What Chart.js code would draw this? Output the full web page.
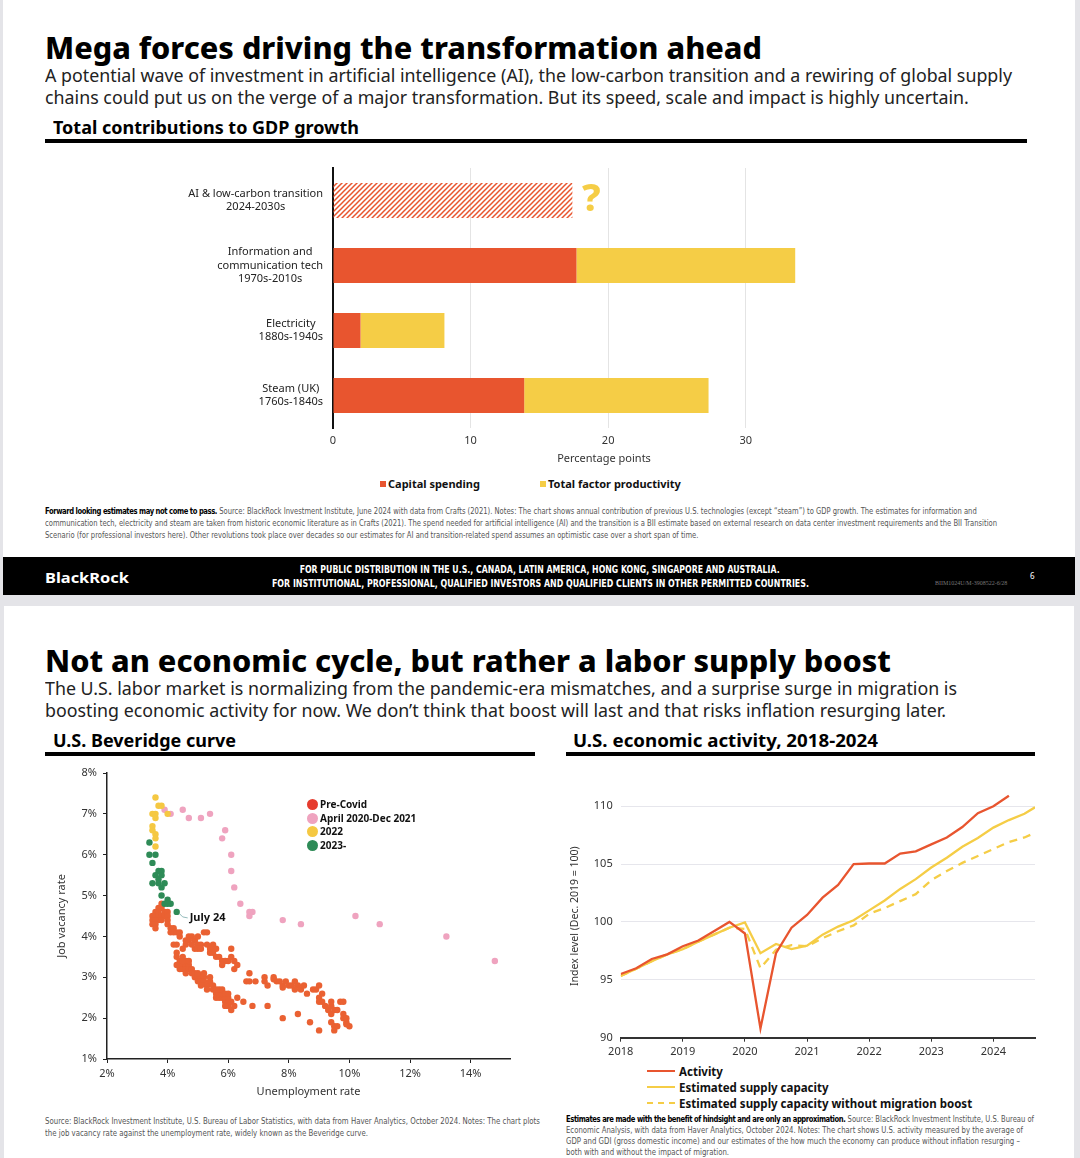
<!DOCTYPE html>
<html>
<head>
<meta charset="utf-8">
<script src="https://cdn.jsdelivr.net/npm/chart.js@4.4.1/dist/chart.umd.min.js"></script>
<style>
html, body { margin: 0; padding: 0; }
body { width: 1080px; height: 1158px; position: relative; overflow: hidden; background: #e4e4e8; font-family: "Noto Sans", sans-serif; color: #1a1a1a; }
.slide { position: absolute; background: #fff; }
.t { position: absolute; white-space: nowrap; display: inline-block; transform-origin: left center; }
.title { font-size: 31px; font-weight: 800; line-height: 36px; color: #000; }
.sub { font-size: 17.5px; line-height: 21.5px; color: #222; }
.sec { font-size: 17px; font-weight: 700; line-height: 20px; color: #000; }
.rule { position: absolute; height: 4px; background: #000; }
.note { font-family: "Liberation Sans Narrow", "DejaVu Sans Condensed", "DejaVu Sans", sans-serif; font-stretch: condensed; font-size: 8.4px; line-height: 12px; color: #555; }
.note b { color: #000; letter-spacing: -0.45px; }
.foot { font-family: "Liberation Sans Narrow", "DejaVu Sans Condensed", sans-serif; font-stretch: condensed; font-weight: 700; font-size: 10px; line-height: 14px; color: #fff; transform-origin: center center; }
canvas { position: absolute; }
.leg { position: absolute; font-size: 10px; font-weight: 700; line-height: 13.5px; color: #111; white-space: nowrap; }
.dot { display: inline-block; width: 11px; height: 11px; border-radius: 50%; vertical-align: -2px; margin-right: 2px; }
.lleg { position: absolute; font-size: 11.5px; font-weight: 700; line-height: 16px; color: #111; white-space: nowrap; }
.sw { display: inline-block; width: 28px; height: 0; border-top: 2.5px solid; vertical-align: 4px; margin-right: 4px; }
</style>
</head>
<body>

<div class="slide" style="left:3px;top:0;width:1072px;height:595px"></div>
<div class="slide" style="left:4px;top:606px;width:1070px;height:552px"></div>

<!-- slide 1 -->
<div class="t title fit" data-w="717" style="left:45px;top:29px">Mega forces driving the transformation ahead</div>
<div class="t sub fit" data-w="967" style="left:45px;top:65px">A potential wave of investment in artificial intelligence (AI), the low-carbon transition and a rewiring of global supply<br>chains could put us on the verge of a major transformation. But its speed, scale and impact is highly uncertain.</div>
<div class="t sec fit" data-w="306" style="left:53px;top:118px">Total contributions to GDP growth</div>
<div class="rule" style="left:45px;top:139px;width:982px"></div>

<canvas id="barChart" width="735" height="300" style="left:150px;top:165px"></canvas>

<div class="leg" style="left:380px;top:477px;font-size:11px"><span style="display:inline-block;width:6px;height:6px;background:#e8552f;vertical-align:1px;margin-right:2px"></span>Capital spending</div>
<div class="leg" style="left:540px;top:477px;font-size:11px"><span style="display:inline-block;width:6px;height:6px;background:#f5cd46;vertical-align:1px;margin-right:2px"></span>Total factor productivity</div>

<div class="t note fit" data-w="952" style="left:45px;top:505px"><b>Forward looking estimates may not come to pass.</b> Source: BlackRock Investment Institute, June 2024 with data from Crafts (2021). Notes: The chart shows annual contribution of previous U.S. technologies (except “steam”) to GDP growth. The estimates for information and<br>communication tech, electricity and steam are taken from historic economic literature as in Crafts (2021). The spend needed for artificial intelligence (AI) and the transition is a BII estimate based on external research on data center investment requirements and the BII Transition<br>Scenario (for professional investors here). Other revolutions took place over decades so our estimates for AI and transition-related spend assumes an optimistic case over a short span of time.</div>

<div style="position:absolute;left:3px;top:557px;width:1072px;height:38px;background:#000"></div>
<div class="t fit" data-w="84" style="left:45px;top:567px;color:#fff;font-weight:700;font-size:15px;line-height:20px">BlackRock</div>
<div class="t foot fitc" data-w="480" style="left:0;top:563px;width:1080px;text-align:center"><span>FOR PUBLIC DISTRIBUTION IN THE U.S., CANADA, LATIN AMERICA, HONG KONG, SINGAPORE AND AUSTRALIA.</span></div>
<div class="t foot fitc" data-w="537" style="left:0;top:577px;width:1080px;text-align:center"><span>FOR INSTITUTIONAL, PROFESSIONAL, QUALIFIED INVESTORS AND QUALIFIED CLIENTS IN OTHER PERMITTED COUNTRIES.</span></div>
<div class="t" style="left:935px;top:579px;font-size:6px;line-height:8px;color:#777;font-family:'Liberation Serif',serif">BIIM1024U/M-3908522-6/28</div>
<div class="t" style="left:1030px;top:571px;font-size:8px;line-height:10px;color:#fff">6</div>

<!-- slide 2 -->
<div class="t title fit" data-w="846" style="left:45px;top:642px">Not an economic cycle, but rather a labor supply boost</div>
<div class="t sub fit" data-w="912" style="left:45px;top:678px">The U.S. labor market is normalizing from the pandemic-era mismatches, and a surprise surge in migration is<br>boosting economic activity for now. We don’t think that boost will last and that risks inflation resurging later.</div>
<div class="t sec fit" data-w="183" style="left:53px;top:731px">U.S. Beveridge curve</div>
<div class="t sec fit" data-w="305" style="left:573px;top:731px">U.S. economic activity, 2018-2024</div>
<div class="rule" style="left:45px;top:752px;width:490px"></div>
<div class="rule" style="left:566px;top:752px;width:469px"></div>

<canvas id="scatterChart" width="480" height="345" style="left:40px;top:760px"></canvas>
<div class="leg" style="left:307px;top:798px">
  <div><span class="dot" style="background:#e63b2e"></span>Pre-Covid</div>
  <div><span class="dot" style="background:#efa3bf"></span>April 2020-Dec 2021</div>
  <div><span class="dot" style="background:#f5c842"></span>2022</div>
  <div><span class="dot" style="background:#2e8b57"></span>2023-</div>
</div>

<canvas id="lineChart" width="480" height="280" style="left:565px;top:780px"></canvas>
<div class="lleg" style="left:647px;top:1064px">
  <div><span class="sw" style="border-color:#e8552f"></span>Activity</div>
  <div><span class="sw" style="border-color:#f5cd46"></span>Estimated supply capacity</div>
  <div><span class="sw" style="border-top-style:dashed;border-color:#f5cd46"></span>Estimated supply capacity without migration boost</div>
</div>

<div class="t note fit" data-w="495" style="left:45px;top:1115px">Source: BlackRock Investment Institute, U.S. Bureau of Labor Statistics, with data from Haver Analytics, October 2024. Notes: The chart plots<br>the job vacancy rate against the unemployment rate, widely known as the Beveridge curve.</div>
<div class="t note fit" data-w="468" style="left:566px;top:1114px;line-height:10.5px"><b>Estimates are made with the benefit of hindsight and are only an approximation.</b> Source: BlackRock Investment Institute, U.S. Bureau of</div>
<div class="t note fit" data-w="457" style="left:566px;top:1125px;line-height:10.5px">Economic Analysis, with data from Haver Analytics, October 2024. Notes: The chart shows U.S. activity measured by the average of</div>
<div class="t note fit" data-w="454" style="left:566px;top:1136px;line-height:10.5px">GDP and GDI (gross domestic income) and our estimates of the how much the economy can produce without inflation resurging –</div>
<div class="t note fit" data-w="163" style="left:566px;top:1146.5px;line-height:10.5px">both with and without the impact of migration.</div>

<script>
// ---- bar chart data ----
const categories = [
    ['AI & low-carbon transition', '2024-2030s'],
    ['Information and', 'communication tech', '1970s-2010s'],
    ['Electricity', '1880s-1940s'],
    ['Steam (UK)', '1760s-1840s']
];
const capitalSpending = [17.4, 17.7, 2.0, 13.9];
const factorProductivity = [null, 15.9, 6.1, 13.4];
const barTicks = [0, 10, 20, 30];

// ---- Beveridge curve data: [unemployment %, vacancy %] ----
const preCovid = [
    [3.8,4.8],[3.7,4.7],[3.8,4.7],[3.9,4.6],[3.7,4.6],[3.6,4.6],[3.6,4.5],[3.7,4.5],[3.8,4.5],[3.9,4.5],
    [3.5,4.5],[3.5,4.4],[3.6,4.4],[3.7,4.4],[3.5,4.3],[3.6,4.3],[3.6,4.2],[4.0,4.6],[3.8,4.4],[4.0,4.5],
    [4.0,4.4],[4.0,4.3],[4.1,4.2],[4.1,4.1],[4.2,4.1],[4.3,4.1],[4.4,4.0],[4.4,4.1],[4.2,4.2],
    [4.6,3.9],[4.7,4.0],[4.8,4.0],[4.9,3.9],[4.7,3.9],[5.0,3.8],[5.0,4.0],[4.9,3.7],[5.1,3.8],[5.0,3.7],
    [5.1,3.7],[5.2,4.1],[5.3,4.1],[4.6,3.8],[4.5,3.7],[4.8,3.8],[4.2,3.8],[4.3,3.8],[4.3,3.6],
    [5.3,3.8],[5.4,3.6],[5.5,3.8],[5.6,3.7],[5.6,3.5],[5.7,3.5],[5.5,3.6],[5.8,3.4],[5.9,3.4],[5.8,3.3],[5.4,3.7],
    [6.1,3.7],[6.1,3.5],[6.2,3.4],[6.3,3.3],[6.2,3.2],[6.0,3.4],
    [4.3,3.5],[4.4,3.4],[4.4,3.3],[4.5,3.3],[4.5,3.2],[4.6,3.3],[4.6,3.4],[4.6,3.2],[4.7,3.3],[4.7,3.2],
    [4.4,3.2],[4.3,3.3],[4.5,3.5],[4.7,3.4],[4.8,3.2],[4.8,3.1],[4.5,3.4],[4.6,3.1],
    [4.9,3.1],[4.9,3.0],[5.0,3.0],[5.0,2.9],[5.1,3.0],[5.1,2.9],[5.2,3.0],[5.2,2.9],[5.3,2.8],[5.4,2.9],
    [5.0,3.1],[5.2,3.1],[5.4,3.0],[5.3,2.7],[5.5,2.8],[5.1,2.8],
    [5.5,2.7],[5.6,2.6],[5.6,2.5],[5.7,2.6],[5.7,2.5],[5.8,2.5],[5.8,2.6],[5.9,2.4],[5.9,2.5],[6.0,2.4],
    [6.0,2.3],[6.1,2.4],[6.1,2.2],[6.0,2.5],[5.7,2.7],[5.8,2.7],[5.9,2.6],[6.2,2.3],[6.3,2.5],[5.6,2.7],
    [6.0,2.6],[5.9,2.3],[6.5,2.4],[6.8,2.3],[7.3,2.3],
    [6.7,3.1],[6.6,2.9],[6.7,2.9],[6.9,2.9],[7.2,3.0],[7.2,2.9],[7.3,2.8],[7.5,3.0],[7.6,2.9],[7.7,2.9],
    [7.8,2.8],[7.9,2.9],[8.0,2.8],[8.1,2.8],[8.2,2.9],[8.3,2.8],[8.2,2.7],[8.4,2.7],[8.5,2.8],[8.6,2.6],
    [8.8,2.7],[8.9,2.7],[9.0,2.8],[7.5,2.95],[7.8,2.75],
    [9.1,2.6],[9.0,2.5],[9.0,2.4],[9.1,2.4],[9.2,2.3],[9.3,2.2],[9.4,2.3],[9.4,2.4],[9.5,2.2],[9.6,2.2],
    [9.4,2.1],[9.4,1.9],[9.5,1.8],[9.5,1.7],[9.6,1.8],[9.7,2.4],[9.8,2.4],[9.8,2.1],[9.8,2.0],[9.9,1.9],
    [9.9,2.0],[10.0,1.8],[9.9,1.85],
    [7.8,2.0],[8.3,2.1],[8.7,1.9],[9.0,1.7]
];
const pandemic = [
    [14.8,3.4],[13.2,4.0],[11.0,4.3],[10.2,4.5],[8.4,4.3],[7.8,4.4],[6.8,4.6],[6.7,4.5],[6.7,4.6],
    [6.4,4.8],[6.2,5.2],[6.1,5.6],[6.1,6.0],[5.8,6.4],[5.9,6.6],[5.4,7.0],[5.1,6.9],[4.7,6.9],
    [4.5,7.1],[4.1,7.0],[3.9,7.1]
];
const year2022 = [
    [4.0,7.0],[3.8,7.2],[3.7,7.2],[3.6,7.4],[3.6,7.0],[3.5,7.0],[3.6,6.9],[3.5,6.7],[3.5,6.6],[3.6,6.5],
    [3.6,6.4],[3.6,6.2]
];
const since2023 = [
    [3.4,6.3],[3.4,6.0],[3.6,6.0],[3.5,5.8],[3.7,5.6],[3.8,5.6],[3.6,5.5],[3.7,5.4],[3.8,5.5],[3.5,5.3],
    [3.7,5.3],[3.9,5.3],[3.8,5.2],[3.8,5.0],[4.0,4.9],[3.9,4.8],[4.1,4.8],[4.0,4.8],[4.3,4.6]
];
const unemploymentTicks = [2, 4, 6, 8, 10, 12, 14];
const vacancyTicks = [1, 2, 3, 4, 5, 6, 7, 8];

// ---- economic activity data (decimal years, index Dec 2019 = 100) ----
const activityDates = [2018.0, 2018.25, 2018.5, 2018.75, 2019.0, 2019.25, 2019.5, 2019.75, 2020.0, 2020.25,
    2020.5, 2020.75, 2021.0, 2021.25, 2021.5, 2021.75, 2022.0, 2022.25, 2022.5, 2022.75,
    2023.0, 2023.25, 2023.5, 2023.75, 2024.0, 2024.25];
const supplyDates = activityDates.concat([2024.5, 2024.67]);
const activity = [95.5, 96.0, 96.8, 97.2, 97.9, 98.4, 99.2, 100.0, 99.0, 90.8,
    97.3, 99.5, 100.6, 102.1, 103.2, 105.0, 105.05, 105.05, 105.9, 106.1,
    106.7, 107.3, 108.2, 109.4, 110.0, 110.9];
const supplyCapacity = [95.33, 95.95, 96.6, 97.2, 97.65, 98.3, 98.9, 99.5, 99.95, 97.3,
    98.1, 97.65, 97.95, 98.9, 99.6, 100.15, 101.0, 101.85, 102.85, 103.7,
    104.7, 105.55, 106.5, 107.25, 108.15, 108.8, 109.35, 109.9];
const supplyNoMigration = [95.33, 95.95, 96.6, 97.2, 97.65, 98.3, 98.9, 99.5, 99.4, 96.0,
    97.6, 98.0, 97.9, 98.6, 99.2, 99.7, 100.7, 101.2, 101.8, 102.4,
    103.6, 104.4, 105.1, 105.7, 106.3, 106.9, 107.3, 107.7];
const yearTicks = [2018, 2019, 2020, 2021, 2022, 2023, 2024];
const indexTicks = [90, 95, 100, 105, 110];

const ORANGE = '#e8552f';
const YELLOW = '#f5cd46';
const TEXT = '#333';

Chart.defaults.font.family = '"Noto Sans", sans-serif';
Chart.defaults.color = TEXT;

function hatch(color) {
    const c = document.createElement('canvas');
    c.width = 5; c.height = 5;
    const g = c.getContext('2d');
    g.strokeStyle = color;
    g.lineWidth = 1.5;
    g.beginPath();
    g.moveTo(-1, 6); g.lineTo(6, -1);
    g.moveTo(-3, 3); g.lineTo(3, -3);
    g.moveTo(2, 8); g.lineTo(8, 2);
    g.stroke();
    return g.createPattern(c, 'repeat');
}

function toXY(pairs) {
    return pairs.map(p => ({ x: p[0], y: p[1] }));
}

function series(dates, values) {
    return values.map((v, i) => ({ x: dates[i], y: v }));
}

function fixedTicks(list) {
    return scale => { scale.ticks = list.map(v => ({ value: v })); };
}

// category labels: each block centred on itself, block right-aligned to the axis
const barLabels = {
    id: 'barLabels',
    afterDraw(chart) {
        const ctx = chart.ctx;
        const yScale = chart.scales.y;
        ctx.save();
        ctx.font = '11px "Noto Sans", sans-serif';
        ctx.fillStyle = '#222';
        ctx.textAlign = 'center';
        ctx.textBaseline = 'middle';
        categories.forEach((lines, i) => {
            const y = yScale.getPixelForValue(i);
            const w = Math.max(...lines.map(l => ctx.measureText(l).width));
            const cx = chart.chartArea.left - 10 - w / 2;
            lines.forEach((l, j) => {
                ctx.fillText(l, cx, y + (j - (lines.length - 1) / 2) * 13.5);
            });
        });
        ctx.restore();
    }
};

const questionMark = {
    id: 'questionMark',
    afterDatasetsDraw(chart) {
        const bar = chart.getDatasetMeta(0).data[0];
        const ctx = chart.ctx;
        ctx.save();
        ctx.font = '800 38px "Noto Sans", sans-serif';
        ctx.fillStyle = YELLOW;
        ctx.textAlign = 'center';
        ctx.textBaseline = 'middle';
        ctx.fillText('?', bar.x + 19, bar.y);
        ctx.restore();
    }
};

const julyLabel = {
    id: 'julyLabel',
    afterDatasetsDraw(chart) {
        const pts = chart.getDatasetMeta(3).data;
        const p = pts[pts.length - 1];
        const ctx = chart.ctx;
        ctx.save();
        ctx.strokeStyle = '#7aa';
        ctx.lineWidth = 0.8;
        ctx.beginPath();
        ctx.moveTo(p.x + 3, p.y + 2);
        ctx.quadraticCurveTo(p.x + 5, p.y + 6, p.x + 11, p.y + 6);
        ctx.stroke();
        ctx.font = '700 11px "Noto Sans", sans-serif';
        ctx.fillStyle = '#111';
        ctx.textBaseline = 'middle';
        ctx.fillText('July 24', p.x + 13, p.y + 6);
        ctx.restore();
    }
};

new Chart(document.getElementById('barChart'), {
    type: 'bar',
    data: {
        labels: categories.map(c => c.join(' ')),
        datasets: [{
            label: 'Capital spending',
            data: capitalSpending,
            backgroundColor: [hatch(ORANGE), ORANGE, ORANGE, ORANGE],
            barPercentage: 0.54,
            categoryPercentage: 1
        }, {
            label: 'Total factor productivity',
            data: factorProductivity,
            backgroundColor: YELLOW,
            barPercentage: 0.54,
            categoryPercentage: 1
        }]
    },
    options: {
        indexAxis: 'y',
        responsive: false,
        animation: false,
        layout: { padding: { top: 3, right: 10 } },
        plugins: {
            legend: { display: false },
            tooltip: { enabled: false }
        },
        scales: {
            x: {
                stacked: true,
                min: 0,
                max: 39.4,
                afterBuildTicks: fixedTicks(barTicks),
                afterFit: s => { s.height = 37; },
                ticks: { padding: 6, font: { size: 11 }, color: TEXT },
                grid: { color: c => (c.tick && c.tick.value === 0) ? 'rgba(0,0,0,0)' : '#e4e4e4', drawTicks: false },
                border: { display: false },
                title: { display: true, text: 'Percentage points', font: { size: 11 }, color: TEXT, padding: { top: 0, bottom: 0 } }
            },
            y: {
                stacked: true,
                afterFit: s => { s.width = 183; },
                ticks: { display: false },
                grid: { display: false },
                border: { color: '#111', width: 2 }
            }
        }
    },
    plugins: [barLabels, questionMark]
});

new Chart(document.getElementById('scatterChart'), {
    type: 'scatter',
    data: {
        datasets: [
            { label: 'Pre-Covid', data: toXY(preCovid), backgroundColor: '#ea6132', pointRadius: 3.2, borderWidth: 0, order: 4 },
            { label: 'April 2020-Dec 2021', data: toXY(pandemic), backgroundColor: '#efa3bf', pointRadius: 3.2, borderWidth: 0, order: 3 },
            { label: '2022', data: toXY(year2022), backgroundColor: '#f5c842', pointRadius: 3.2, borderWidth: 0, order: 2 },
            { label: '2023-', data: toXY(since2023), backgroundColor: '#2e8b57', pointRadius: 3.2, borderWidth: 0, order: 1 }
        ]
    },
    options: {
        responsive: false,
        animation: false,
        layout: { padding: { top: 13, right: 10 } },
        plugins: {
            legend: { display: false },
            tooltip: { enabled: false }
        },
        scales: {
            x: {
                type: 'linear',
                min: 2,
                max: 15.3,
                afterBuildTicks: fixedTicks(unemploymentTicks),
                afterFit: s => { s.height = 46; },
                ticks: { padding: 4, font: { size: 11 }, color: TEXT, callback: v => v + '%' },
                grid: { drawOnChartArea: false, drawTicks: true, tickLength: 4, color: '#222' },
                border: { color: '#222', width: 1.5 },
                title: { display: true, text: 'Unemployment rate', font: { size: 11 }, color: TEXT, padding: { top: 0, bottom: 7 } }
            },
            y: {
                min: 1,
                max: 8,
                afterBuildTicks: fixedTicks(vacancyTicks),
                afterFit: s => { s.width = 67; },
                ticks: { padding: 6, font: { size: 11 }, color: TEXT, callback: v => v + '%' },
                grid: { drawOnChartArea: false, drawTicks: true, tickLength: 4, color: '#222' },
                border: { color: '#222', width: 1.5 },
                title: { display: true, text: 'Job vacancy rate', font: { size: 11 }, color: TEXT, padding: { top: 15, bottom: 0 } }
            }
        }
    },
    plugins: [julyLabel]
});

new Chart(document.getElementById('lineChart'), {
    type: 'line',
    data: {
        datasets: [{
            label: 'Activity',
            data: series(activityDates, activity),
            borderColor: ORANGE,
            borderWidth: 2.3,
            pointRadius: 0,
            tension: 0
        }, {
            label: 'Estimated supply capacity',
            data: series(supplyDates, supplyCapacity),
            borderColor: YELLOW,
            borderWidth: 2.3,
            pointRadius: 0,
            tension: 0
        }, {
            label: 'Estimated supply capacity without migration boost',
            data: series(supplyDates, supplyNoMigration),
            borderColor: YELLOW,
            borderWidth: 2.3,
            borderDash: [8, 6],
            pointRadius: 0,
            tension: 0
        }]
    },
    options: {
        responsive: false,
        animation: false,
        layout: { padding: { top: 11, right: 10 } },
        plugins: {
            legend: { display: false },
            tooltip: { enabled: false }
        },
        scales: {
            x: {
                type: 'linear',
                min: 2018,
                max: 2024.67,
                afterBuildTicks: fixedTicks(yearTicks),
                afterFit: s => { s.height = 22.3; },
                ticks: { padding: 4, font: { size: 11 }, color: TEXT, callback: v => String(v) },
                grid: { drawOnChartArea: false, drawTicks: true, tickLength: 4, color: '#333' },
                border: { color: '#333', width: 2 }
            },
            y: {
                min: 90,
                max: 111,
                afterBuildTicks: fixedTicks(indexTicks),
                afterFit: s => { s.width = 55.7; },
                ticks: { padding: 8, font: { size: 11 }, color: TEXT },
                grid: { color: '#e6e6ec', drawTicks: false },
                border: { display: false },
                title: { display: true, text: 'Index level (Dec. 2019 = 100)', font: { size: 10.5 }, color: TEXT, padding: { top: 4, bottom: 0 } }
            }
        }
    }
});

// squeeze or stretch text blocks to the widths measured on the reference
function fitText() {
    document.querySelectorAll('.fit').forEach(el => {
        el.style.transform = '';
        const w = el.getBoundingClientRect().width;
        el.style.transform = 'scaleX(' + (Number(el.dataset.w) / w) + ')';
    });
    document.querySelectorAll('.fitc').forEach(el => {
        const span = el.querySelector('span');
        span.style.display = 'inline-block';
        span.style.transform = '';
        const w = span.getBoundingClientRect().width;
        span.style.transform = 'scaleX(' + (Number(el.dataset.w) / w) + ')';
    });
}
fitText();
if (document.fonts) document.fonts.ready.then(fitText);
</script>
</body>
</html>
